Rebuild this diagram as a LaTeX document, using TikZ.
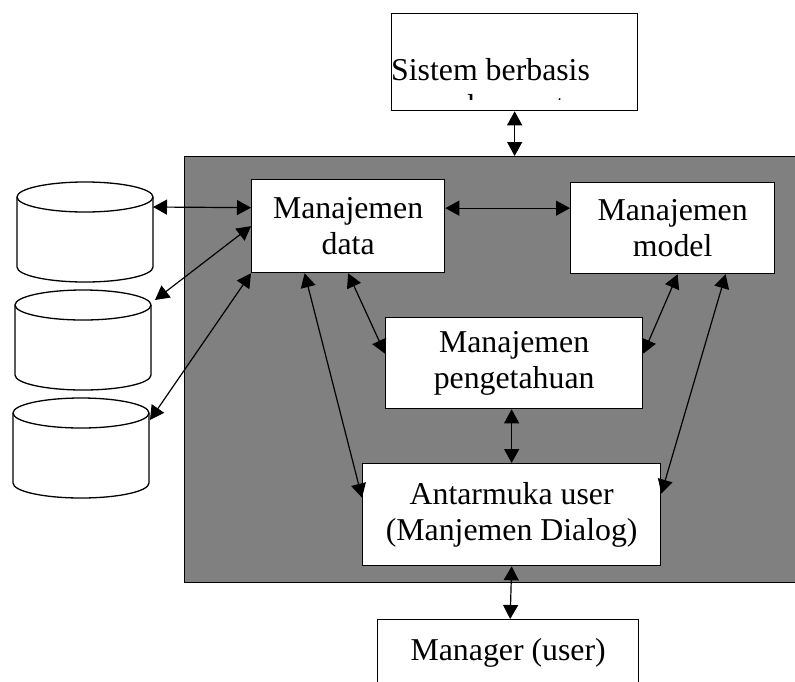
\documentclass[tikz,border=0pt]{standalone}
\usepackage{fontspec}
\setmainfont{Liberation Serif}
\usetikzlibrary{arrows.meta}

\begin{document}
\begin{tikzpicture}[x=1pt,y=1pt,
    font=\fontsize{31.8}{36}\selectfont,
    box/.style={draw,fill=white,line width=1.3pt,inner sep=0pt,align=center,anchor=north west},
    link/.style={{Triangle[length=14pt,width=15pt]}-{Triangle[length=14pt,width=15pt]},line width=1.2pt},
    drum/.style={draw,fill=white,line width=1.3pt}]
            \clip (0,0) rectangle (795,-681);
            \node [draw,fill=gray,line width=1.3pt,anchor=north west,minimum width=640,minimum height=426] (panel) at (184,-156) {};
            % three data stores
            \foreach \xl/\yt in {17/197,15/305,13/413} {
                \draw [drum] (\xl,-\yt) -- (\xl,-\yt-70) arc[start angle=180,end angle=360,x radius=68,y radius=15]
                    -- (\xl+136,-\yt) arc[start angle=0,end angle=180,x radius=68,y radius=15] -- cycle;
                \draw [line width=1.3pt] (\xl,-\yt) arc[start angle=180,end angle=360,x radius=68,y radius=15];
            }
            \coordinate (db1) at (153,-207);
            \coordinate (db2) at (155,-300);
            \coordinate (db3) at (150,-420);
            % boxes
            \node [box,minimum width=246,minimum height=97] (sys) at (391,-13) {};
            \begin{scope}
                \clip (391,-13) rectangle (637,-99);
                \node [anchor=base west,inner sep=0pt] (systop) at (391,-80) {Sistem berbasis};
                \node [anchor=base west,inner sep=0pt] (sysbot) at (467,-116) {komputer};
            \end{scope}
            \node [box,minimum width=193,minimum height=93] (data) at (251,-179) {Manajemen\\data};
            \node [box,minimum width=204,minimum height=91] (model) at (570,-182) {Manajemen\\model};
            \node [box,minimum width=257,minimum height=91] (peng) at (385,-317) {Manajemen\\pengetahuan};
            \node [box,minimum width=298,minimum height=102] (antar) at (362,-463) {Antarmuka user\\(Manjemen Dialog)};
            \node [box,minimum width=261,minimum height=66] (user) at (377,-619) {Manager (user)};
            % connectors
            \draw [link] (sys.south) -- (sys.south |- panel.north);
            \draw [link] (db1) -- ([yshift=18.5]data.west);
            \draw [link] (db2) -- (data.west);
            \draw [link] (db3) -- (data.south west);
            \draw [link] ([yshift=18]data.east) -- ([yshift=18]data.east -| model.west);
            \draw [link] (data.south) -- ([yshift=9.5]peng.west);
            \draw [link] ([xshift=-43.5]data.south) -- ([yshift=17]antar.west);
            \draw [link] ([xshift=5]model.south) -- ([yshift=9.5]peng.east);
            \draw [link] ([xshift=53]model.south) -- ([yshift=21]antar.east);
            \draw [link] (antar.north |- peng.south) -- (antar.north);
            \draw [link] (antar.south) -- ([xshift=2]user.north);
        \end{tikzpicture}
\end{document}
